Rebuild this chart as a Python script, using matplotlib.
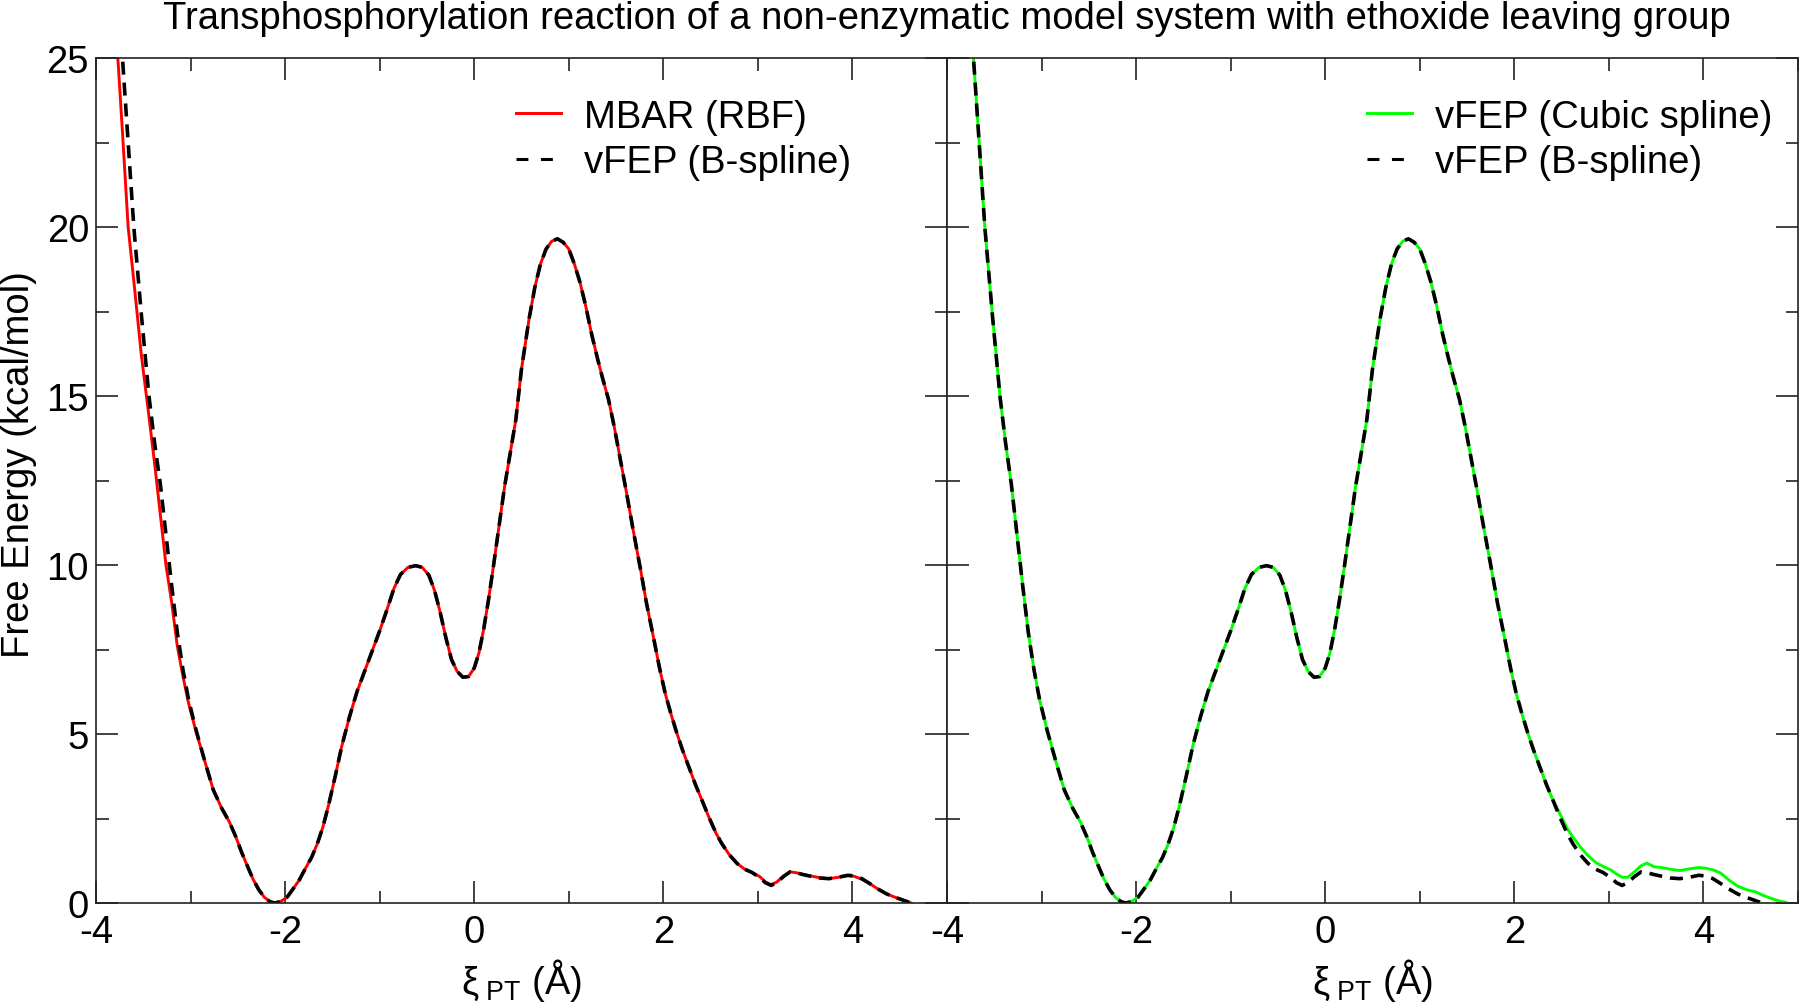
import numpy as np
import matplotlib
matplotlib.use("Agg")
import matplotlib.pyplot as plt
from matplotlib.ticker import MultipleLocator
from matplotlib.lines import Line2D

plt.rcParams['font.family'] = ['Liberation Sans', 'DejaVu Sans']
plt.rcParams['mathtext.fontset'] = 'custom'
plt.rcParams['mathtext.rm'] = 'Liberation Sans'
plt.rcParams['mathtext.it'] = 'Liberation Sans'
plt.rcParams['axes.unicode_minus'] = False

# reaction coordinate grid (Å)
xi = [-3.80, -3.76, -3.72, -3.66, -3.60, -3.52, -3.44, -3.38, -3.32, -3.26,
      -3.20, -3.14, -3.08, -3.02, -2.94, -2.85, -2.76, -2.67, -2.59, -2.52,
      -2.46, -2.40, -2.34, -2.28, -2.22, -2.16, -2.11, -2.05, -1.98, -1.92,
      -1.85, -1.78, -1.72, -1.66, -1.60, -1.54, -1.47, -1.40, -1.32, -1.24,
      -1.16, -1.08, -1.00, -0.92, -0.85, -0.78, -0.70, -0.62, -0.55, -0.48,
      -0.42, -0.36, -0.30, -0.24, -0.18, -0.12, -0.06, 0.00, 0.05, 0.10,
      0.15, 0.20, 0.26, 0.32, 0.38, 0.44, 0.50, 0.58, 0.64, 0.70,
      0.76, 0.82, 0.88, 0.94, 1.00, 1.06, 1.12, 1.18, 1.24, 1.30,
      1.36, 1.42, 1.48, 1.54, 1.60, 1.68, 1.76, 1.82, 1.90, 1.96,
      2.02, 2.08, 2.14, 2.20, 2.28, 2.34, 2.40, 2.48, 2.56, 2.62,
      2.70, 2.78, 2.86, 2.94, 3.02, 3.08, 3.14, 3.20, 3.27, 3.34,
      3.40, 3.48, 3.56, 3.65, 3.75, 3.85, 3.95, 4.02, 4.10, 4.18,
      4.26, 4.36, 4.46, 4.55, 4.62, 4.70, 4.80, 4.87]

nan = np.nan

# vFEP (B-spline), kcal/mol
fe_bspline = [28.3, 26.6, 25.0, 22.5, 20.0, 17.4, 15.0, 13.6, 12.4, 10.9,
              9.4, 8.0, 6.9, 6.0, 5.1, 4.2, 3.35, 2.8, 2.4, 1.95,
              1.5, 1.1, 0.71, 0.40, 0.17, 0.04, 0.0, 0.04, 0.17, 0.40,
              0.68, 1.05, 1.35, 1.75, 2.25, 2.9, 3.75, 4.65, 5.5, 6.25,
              6.85, 7.45, 8.05, 8.7, 9.3, 9.72, 9.93, 9.98, 9.93, 9.70,
              9.25, 8.6, 7.85, 7.2, 6.85, 6.68, 6.7, 6.95, 7.4, 8.1,
              8.95, 9.9, 11.1, 12.3, 13.3, 14.3, 15.8, 17.28, 18.2, 18.9,
              19.35, 19.58, 19.65, 19.55, 19.35, 18.9, 18.35, 17.65, 16.85, 16.15,
              15.5, 14.9, 14.1, 13.2, 12.3, 11.05, 9.85, 8.9, 7.8, 6.95,
              6.2, 5.6, 5.05, 4.55, 3.95, 3.5, 3.1, 2.55, 2.05, 1.75,
              1.42, 1.17, 1.0, 0.9, 0.75, 0.6, 0.52, 0.6, 0.78, 0.92,
              0.9, 0.84, 0.79, 0.74, 0.72, 0.76, 0.82, 0.8, 0.72, 0.58,
              0.43, 0.27, 0.16, 0.07, 0.0, nan, nan, nan]

# MBAR (RBF), kcal/mol
fe_mbar = [26.3, 24.6, 22.8, 20.0, 18.4, 16.2, 14.4, 13.0, 11.5, 10.0,
           8.9, 7.6, 6.7, 5.9, 5.05, 4.2, 3.35, 2.8, 2.4, 1.95,
           1.5, 1.1, 0.71, 0.40, 0.17, 0.04, 0.0, 0.04, 0.17, 0.40,
           0.68, 1.05, 1.35, 1.75, 2.25, 2.9, 3.75, 4.65, 5.5, 6.25,
           6.85, 7.45, 8.05, 8.7, 9.3, 9.72, 9.93, 9.98, 9.93, 9.70,
           9.25, 8.6, 7.85, 7.2, 6.85, 6.68, 6.7, 6.95, 7.4, 8.1,
           8.95, 9.9, 11.1, 12.3, 13.3, 14.3, 15.8, 17.28, 18.2, 18.9,
           19.35, 19.58, 19.65, 19.55, 19.35, 18.9, 18.35, 17.65, 16.85, 16.15,
           15.5, 14.9, 14.1, 13.2, 12.3, 11.05, 9.85, 8.9, 7.8, 6.95,
           6.2, 5.6, 5.05, 4.55, 3.95, 3.5, 3.1, 2.55, 2.05, 1.75,
           1.42, 1.17, 1.0, 0.9, 0.78, 0.62, 0.54, 0.62, 0.8, 0.92,
           0.9, 0.84, 0.8, 0.75, 0.72, 0.76, 0.81, 0.79, 0.7, 0.58,
           0.43, 0.27, 0.16, 0.07, 0.0, nan, nan, nan]

# vFEP (Cubic spline), kcal/mol
fe_cubic = [28.3, 26.6, 25.0, 22.5, 20.0, 17.4, 15.0, 13.6, 12.4, 10.9,
            9.4, 8.0, 6.9, 6.0, 5.1, 4.2, 3.35, 2.8, 2.4, 1.95,
            1.5, 1.1, 0.71, 0.40, 0.17, 0.04, 0.0, 0.04, 0.17, 0.40,
            0.68, 1.05, 1.35, 1.75, 2.25, 2.9, 3.75, 4.65, 5.5, 6.25,
            6.85, 7.45, 8.05, 8.7, 9.3, 9.72, 9.93, 9.98, 9.93, 9.70,
            9.25, 8.6, 7.85, 7.2, 6.85, 6.68, 6.7, 6.95, 7.4, 8.1,
            8.95, 9.9, 11.1, 12.3, 13.3, 14.3, 15.8, 17.28, 18.2, 18.9,
            19.35, 19.58, 19.65, 19.55, 19.35, 18.9, 18.35, 17.65, 16.85, 16.15,
            15.5, 14.9, 14.1, 13.2, 12.3, 11.05, 9.85, 8.9, 7.8, 6.95,
            6.2, 5.6, 5.05, 4.55, 3.95, 3.5, 3.1, 2.65, 2.2, 1.95,
            1.65, 1.4, 1.2, 1.08, 0.98, 0.86, 0.76, 0.76, 0.92, 1.1,
            1.18, 1.07, 1.05, 1.0, 0.96, 1.01, 1.05, 1.03, 0.98, 0.89,
            0.7, 0.5, 0.39, 0.33, 0.24, 0.15, 0.06, 0.02]

title = "Transphosphorylation reaction of a non-enzymatic model system with ethoxide leaving group"
xlabel = r"$\xi_{\ \mathrm{PT}}$ (Å)"
ylabel = "Free Energy (kcal/mol)"

fs = 27.5
fig = plt.figure(figsize=(18, 10.04), dpi=100)
ax1 = fig.add_axes([96/1800, 1 - 904/1004, 851/1800, 845/1004])
ax2 = fig.add_axes([947/1800, 1 - 904/1004, 851/1800, 845/1004])

dash = (3.6, 2.2)
lw_dash = 2.6
lw_solid = 2.1
ax1.plot(xi, fe_mbar, color='#ff0000', lw=lw_solid)
ax1.plot(xi, fe_bspline, color='black', lw=lw_dash, dashes=dash)
ax2.plot(xi, fe_cubic, color='#00ff00', lw=lw_solid)
ax2.plot(xi, fe_bspline, color='black', lw=lw_dash, dashes=dash)

# legend handles (the legend dash is sparser than on the curve)
def leg_handles(col):
    return [Line2D([], [], color=col, lw=lw_solid),
            Line2D([], [], color='black', lw=2.2, dashes=(3.9, 4.1))]

for ax in (ax1, ax2):
    ax.set_xlim(-4, 5)
    ax.set_ylim(0, 25)
    ax.xaxis.set_major_locator(MultipleLocator(2))
    ax.xaxis.set_minor_locator(MultipleLocator(1))
    ax.yaxis.set_major_locator(MultipleLocator(5))
    ax.yaxis.set_minor_locator(MultipleLocator(2.5))
    ax.tick_params(which='both', direction='in', top=True, right=True,
                   width=1.2, labelsize=fs, color='#222222')
    ax.tick_params(which='major', length=16)
    ax.tick_params(which='minor', length=9)
    ax.tick_params(axis='x', pad=8)
    ax.tick_params(axis='y', pad=5)
    for s in ax.spines.values():
        s.set_linewidth(1.2)
        s.set_color('#222222')
    ax.set_xlabel(xlabel, fontsize=fs, labelpad=4)

ax1.legend(leg_handles('#ff0000'), ["MBAR (RBF)", "vFEP (B-spline)"],
           loc='upper left', bbox_to_anchor=(0.493, 0.952), frameon=False,
           fontsize=fs, handlelength=1.2, handletextpad=0.6,
           labelspacing=0.25, borderpad=0, borderaxespad=0)
ax2.legend(leg_handles('#00ff00'), ["vFEP (Cubic spline)", "vFEP (B-spline)"],
           loc='upper left', bbox_to_anchor=(0.493, 0.952), frameon=False,
           fontsize=fs, handlelength=1.2, handletextpad=0.6,
           labelspacing=0.25, borderpad=0, borderaxespad=0)

ax2.tick_params(axis='y', labelleft=False)
ax1.set_ylabel(ylabel, fontsize=fs)
ax1.yaxis.set_label_coords(-0.069, 0.52)

fig.text(947/1800, 1 - 1/1004, title, ha='center', va='top', fontsize=fs)

fig.savefig("out.png", dpi=100)
